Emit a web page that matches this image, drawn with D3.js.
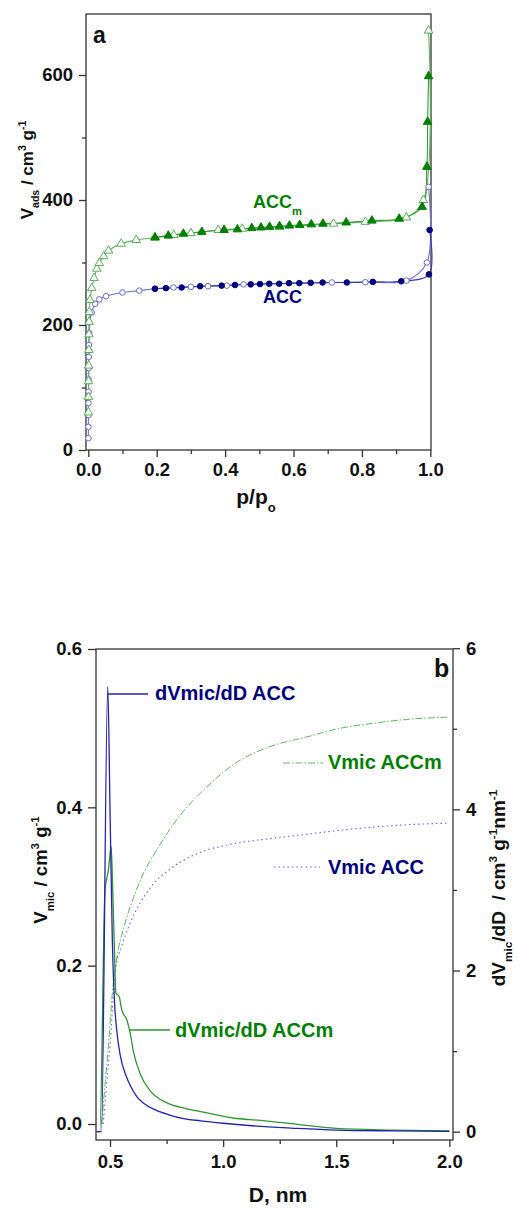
<!DOCTYPE html>
<html><head><meta charset="utf-8">
<script src="https://cdn.jsdelivr.net/npm/d3@7"></script>
<style>body{margin:0;background:#fff}svg{display:block}text{white-space:pre}</style>
</head><body><svg id="c" width="519" height="1211"></svg>
<script>
// ---------- Panel a: N2 isotherms ----------
const accmAdsP = [0.0003,0.0005,0.0008,0.0011,0.0015,0.002,0.0025,0.003,0.005,0.01,0.017,0.025,0.032,0.045,0.059,0.096,0.14,0.195,0.25,0.30,0.38,0.45,0.56,0.717,0.81,0.93,0.98,0.995];
const accmAdsV = [60,85,110,135,160,185,205,221,240,259,275,290,299,310,319,330,336,340,344,347,352,354,357,362,365,372,400,671];
const accmDesP = [0.995,0.992,0.990,0.976,0.909,0.829,0.754,0.686,0.652,0.618,0.588,0.559,0.530,0.505,0.478,0.436,0.397,0.332,0.278,0.234,0.195];
const accmDesV = [598,525,453,389,370,367,364,362,361,360,359,358,357,356,355,353,352,349,346,343,340];
const accAdsP = [0.0003,0.0004,0.0005,0.0006,0.0008,0.001,0.0012,0.0015,0.002,0.0025,0.003,0.01,0.02,0.032,0.052,0.1,0.149,0.195,0.249,0.30,0.35,0.405,0.454,0.712,0.81,0.93,0.99,0.995];
const accAdsV = [19,37,56,75,93,113,131,149,168,187,204,220,234,241,246,252,255,258,260,261,262,263,265,268,268.5,271,300,421];
const accDesP = [0.998,0.996,0.915,0.832,0.756,0.685,0.65,0.617,0.587,0.558,0.529,0.502,0.475,0.429,0.39,0.327,0.273,0.227,0.195];
const accDesV = [352,281,270,269,268,268,267.5,267,267,266,266,265.5,265,264,263,262,260,259,258];
const isoXTicks = [0,0.2,0.4,0.6,0.8,1.0];
const isoXMinor = [0.1,0.3,0.5,0.7,0.9];
const isoYTicks = [0,200,400,600];
const isoYMinor = [100,300,500];

// ---------- Panel b: micropore size distributions ----------
const psdAccD = [0.44,0.462,0.49,0.50,0.51,0.52,0.53,0.545,0.57,0.59,0.62,0.65,0.70,0.76,0.82,0.90,1.00,1.10,1.20,1.30,1.50,1.75,2.00];
const psdAccR = [0,0,5.52,4.0,2.4,1.6,1.25,0.95,0.7,0.57,0.43,0.35,0.27,0.21,0.165,0.135,0.105,0.08,0.06,0.045,0.02,0.01,0.005];
const psdAccmD = [0.44,0.455,0.478,0.493,0.505,0.512,0.52,0.526,0.54,0.552,0.574,0.588,0.603,0.633,0.68,0.75,0.83,0.90,1.045,1.163,1.30,1.50,1.75,2.00];
const psdAccmR = [0,0,3.0,3.25,3.54,3.0,2.2,1.72,1.68,1.51,1.39,1.24,1.0,0.72,0.5,0.36,0.29,0.25,0.17,0.14,0.10,0.04,0.02,0.01];
const vmicAccmD = [0.463,0.478,0.493,0.51,0.53,0.56,0.60,0.65,0.70,0.75,0.824,0.90,1.05,1.20,1.37,1.52,1.66,1.81,2.0];
const vmicAccmV = [0,0.05,0.098,0.165,0.21,0.247,0.283,0.318,0.343,0.366,0.395,0.418,0.455,0.476,0.489,0.50,0.506,0.511,0.514];
const vmicAccD = [0.47,0.485,0.50,0.522,0.552,0.588,0.677,0.78,0.898,1.045,1.222,1.369,1.517,1.664,1.81,2.0];
const vmicAccV = [0,0.05,0.098,0.19,0.225,0.253,0.298,0.325,0.343,0.354,0.361,0.366,0.371,0.375,0.378,0.38];
const psdXTicks = [0.5,1.0,1.5,2.0];
const psdXMinor = [0.75,1.25,1.75];
const psdYLTicks = [0,0.2,0.4,0.6];
const psdYRTicks = [0,2,4,6];
const psdYRMinor = [1,3,5];

const FONT = '"Liberation Sans", Arial, Helvetica, sans-serif';
const NAVY = "#00007f", GREEN = "#007f00";
const svg = d3.select("#c");

function styleAxis(g, size) {
  g.attr("font-family", FONT).attr("font-size", size).attr("font-weight", "bold");
  g.select(".domain").remove();
  g.selectAll("line").attr("stroke", "#333").attr("stroke-width", 1.3);
  g.selectAll("text").attr("fill", "#111");
}
function rich(sel, parts, size) {
  let shift = 0;
  parts.forEach(p => {
    const target = p.s === "sub" ? size * 0.38 : p.s === "sup" ? -size * 0.42 : 0;
    sel.append("tspan").attr("dy", target - shift).attr("font-size", p.s ? size * 0.62 : size).text(p.t);
    shift = target;
  });
}
function label(x, y, size, parts, opts = {}) {
  const t = svg.append("text")
    .attr("font-family", FONT).attr("font-weight", opts.weight || "bold")
    .attr("font-size", size).attr("fill", opts.fill || "#111")
    .attr("text-anchor", opts.anchor || "start");
  if (opts.rotate) t.attr("transform", `translate(${x},${y}) rotate(-90)`);
  else t.attr("x", x).attr("y", y);
  rich(t, parts, size);
  return t;
}

// ===== Panel a =====
const xA = d3.scaleLinear().domain([-0.0067, 1.002]).range([86, 431]);
const yA = d3.scaleLinear().domain([0, 697.6]).range([450, 14]);

svg.append("g").attr("transform", "translate(0,450)")
  .call(d3.axisBottom(xA).tickValues(isoXTicks).tickFormat(d3.format(".1f")).tickSize(7).tickPadding(6).tickSizeOuter(0))
  .call(g => styleAxis(g, 18.5));
svg.append("g").attr("transform", "translate(0,450)")
  .call(d3.axisBottom(xA).tickValues(isoXMinor).tickFormat("").tickSize(4).tickSizeOuter(0))
  .call(g => styleAxis(g, 18.5));
svg.append("g").attr("transform", "translate(86,0)")
  .call(d3.axisLeft(yA).tickValues(isoYTicks).tickFormat(d3.format("d")).tickSize(7).tickPadding(6).tickSizeOuter(0))
  .call(g => styleAxis(g, 18.5));
svg.append("g").attr("transform", "translate(86,0)")
  .call(d3.axisLeft(yA).tickValues(isoYMinor).tickFormat("").tickSize(4).tickSizeOuter(0))
  .call(g => styleAxis(g, 18.5));
svg.append("rect").attr("x", 86).attr("y", 14).attr("width", 345).attr("height", 436)
  .attr("fill", "none").attr("stroke", "#333").attr("stroke-width", 1.3);

const zipPV = (P, V) => P.map((p, i) => ({ p, v: V[i] }));
const isoLine = d3.line().x(d => xA(d.p)).y(d => yA(d.v)).curve(d3.curveCatmullRom.alpha(0.5));
const sets = [
  { data: zipPV(accAdsP, accAdsV), line: "#7070d8", kind: "circle", fill: "#fff", stroke: "#6a6ad4" },
  { data: zipPV(accDesP, accDesV), line: "#3a3ab0", kind: "circle", fill: NAVY, stroke: NAVY },
  { data: zipPV(accmAdsP, accmAdsV), line: "#5cb85c", kind: "tri", fill: "#fff", stroke: "#55b055" },
  { data: zipPV(accmDesP, accmDesV), line: "#3a9a3a", kind: "tri", fill: GREEN, stroke: GREEN }
];
sets.forEach(s => {
  svg.append("path").datum(s.data).attr("d", isoLine).attr("fill", "none")
    .attr("stroke", s.line).attr("stroke-width", 1.1);
});
const tri = d3.symbol().type(d3.symbolTriangle).size(32);
sets.forEach(s => {
  const g = svg.append("g");
  if (s.kind === "circle") {
    g.selectAll("circle").data(s.data).join("circle")
      .attr("cx", d => xA(d.p)).attr("cy", d => yA(d.v)).attr("r", 2.8)
      .attr("fill", s.fill).attr("stroke", s.stroke).attr("stroke-width", 1);
  } else {
    g.selectAll("path").data(s.data).join("path").attr("d", tri)
      .attr("transform", d => `translate(${xA(d.p)},${yA(d.v)})`)
      .attr("fill", s.fill).attr("stroke", s.stroke).attr("stroke-width", 1);
  }
});

label(93, 43, 23, [{ t: "a" }]);
label(253, 208, 18, [{ t: "ACC" }, { t: "m", s: "sub" }], { fill: GREEN });
label(263, 303, 18, [{ t: "ACC" }], { fill: NAVY });
label(33, 170, 17, [{ t: "V" }, { t: "ads", s: "sub" }, { t: " / cm" }, { t: "3", s: "sup" }, { t: " g" }, { t: "-1", s: "sup" }], { rotate: true, anchor: "middle" });
label(256, 504, 21, [{ t: "p/p" }, { t: "o", s: "sub" }], { anchor: "middle" });

// ===== Panel b =====
const xB = d3.scaleLinear().domain([0.438, 2.016]).range([96, 453]);
const yL = d3.scaleLinear().domain([-0.0202, 0.6]).range([1140, 649]);
const yR = d3.scaleLinear().domain([-0.103, 5.99]).range([1140, 649]);

svg.append("g").attr("transform", "translate(0,1140)")
  .call(d3.axisBottom(xB).tickValues(psdXTicks).tickFormat(d3.format(".1f")).tickSize(7).tickPadding(8).tickSizeOuter(0))
  .call(g => styleAxis(g, 18.5));
svg.append("g").attr("transform", "translate(0,1140)")
  .call(d3.axisBottom(xB).tickValues(psdXMinor).tickFormat("").tickSize(4).tickSizeOuter(0))
  .call(g => styleAxis(g, 18.5));
svg.append("g").attr("transform", "translate(96,0)")
  .call(d3.axisLeft(yL).tickValues(psdYLTicks).tickFormat(d3.format(".1f")).tickSize(8).tickPadding(6).tickSizeOuter(0))
  .call(g => styleAxis(g, 18.5));
svg.append("g").attr("transform", "translate(453,0)")
  .call(d3.axisRight(yR).tickValues(psdYRTicks).tickFormat(d3.format("d")).tickSize(7).tickPadding(6).tickSizeOuter(0))
  .call(g => styleAxis(g, 18.5));
svg.append("g").attr("transform", "translate(453,0)")
  .call(d3.axisRight(yR).tickValues(psdYRMinor).tickFormat("").tickSize(4).tickSizeOuter(0))
  .call(g => styleAxis(g, 18.5));

svg.append("clipPath").attr("id", "clipB").append("rect")
  .attr("x", 96).attr("y", 649).attr("width", 357).attr("height", 491);
const zipD = (D, Y) => D.map((d, i) => ({ d, y: Y[i] }));
const lineL = d3.line().x(d => xB(d.d)).y(d => yL(d.y)).curve(d3.curveMonotoneX);
const lineR = d3.line().x(d => xB(d.d)).y(d => yR(d.y)).curve(d3.curveMonotoneX);
const pg = svg.append("g").attr("clip-path", "url(#clipB)");
pg.append("path").datum(zipD(vmicAccmD, vmicAccmV)).attr("d", lineL).attr("fill", "none")
  .attr("stroke", "#5cb85c").attr("stroke-width", 1).attr("stroke-dasharray", "7,2,1.5,2");
pg.append("path").datum(zipD(vmicAccD, vmicAccV)).attr("d", lineL).attr("fill", "none")
  .attr("stroke", "#6a6ae0").attr("stroke-width", 1.1).attr("stroke-dasharray", "1.5,3");
pg.append("path").datum(zipD(psdAccmD, psdAccmR)).attr("d", lineR).attr("fill", "none")
  .attr("stroke", "#2e962e").attr("stroke-width", 1.3);
pg.append("path").datum(zipD(psdAccD, psdAccR)).attr("d", lineR).attr("fill", "none")
  .attr("stroke", "#2323b0").attr("stroke-width", 1.3);

svg.append("rect").attr("x", 96).attr("y", 649).attr("width", 357).attr("height", 491)
  .attr("fill", "none").attr("stroke", "#333").attr("stroke-width", 1.3);

// legend leaders + texts
svg.append("line").attr("x1", 108).attr("x2", 148).attr("y1", 694).attr("y2", 694).attr("stroke", "#2323b0").attr("stroke-width", 1.3);
label(155, 700, 20, [{ t: "dVmic/dD ACC" }], { fill: NAVY });
svg.append("line").attr("x1", 283).attr("x2", 323).attr("y1", 763).attr("y2", 763).attr("stroke", "#5cb85c").attr("stroke-width", 1).attr("stroke-dasharray", "7,2,1.5,2");
label(328, 769, 20, [{ t: "Vmic ACCm" }], { fill: GREEN });
svg.append("line").attr("x1", 274).attr("x2", 320).attr("y1", 867).attr("y2", 867).attr("stroke", "#6a6ae0").attr("stroke-width", 1.1).attr("stroke-dasharray", "1.5,3");
label(328, 874, 20, [{ t: "Vmic ACC" }], { fill: NAVY });
svg.append("line").attr("x1", 129).attr("x2", 170).attr("y1", 1030).attr("y2", 1030).attr("stroke", "#2e962e").attr("stroke-width", 1.3);
label(175, 1037, 20, [{ t: "dVmic/dD ACCm" }], { fill: GREEN });

label(434, 677, 25, [{ t: "b" }]);
label(47, 870, 18.5, [{ t: "V" }, { t: "mic", s: "sub" }, { t: " / cm" }, { t: "3", s: "sup" }, { t: " g" }, { t: "-1", s: "sup" }], { rotate: true, anchor: "middle" });
label(505, 888, 19, [{ t: "dV" }, { t: "mic", s: "sub" }, { t: "/dD  / cm" }, { t: "3", s: "sup" }, { t: " g" }, { t: "-1", s: "sup" }, { t: "nm" }, { t: "-1", s: "sup" }], { rotate: true, anchor: "middle" });
label(278, 1202, 21, [{ t: "D, nm" }], { anchor: "middle" });
</script>
</body></html>
